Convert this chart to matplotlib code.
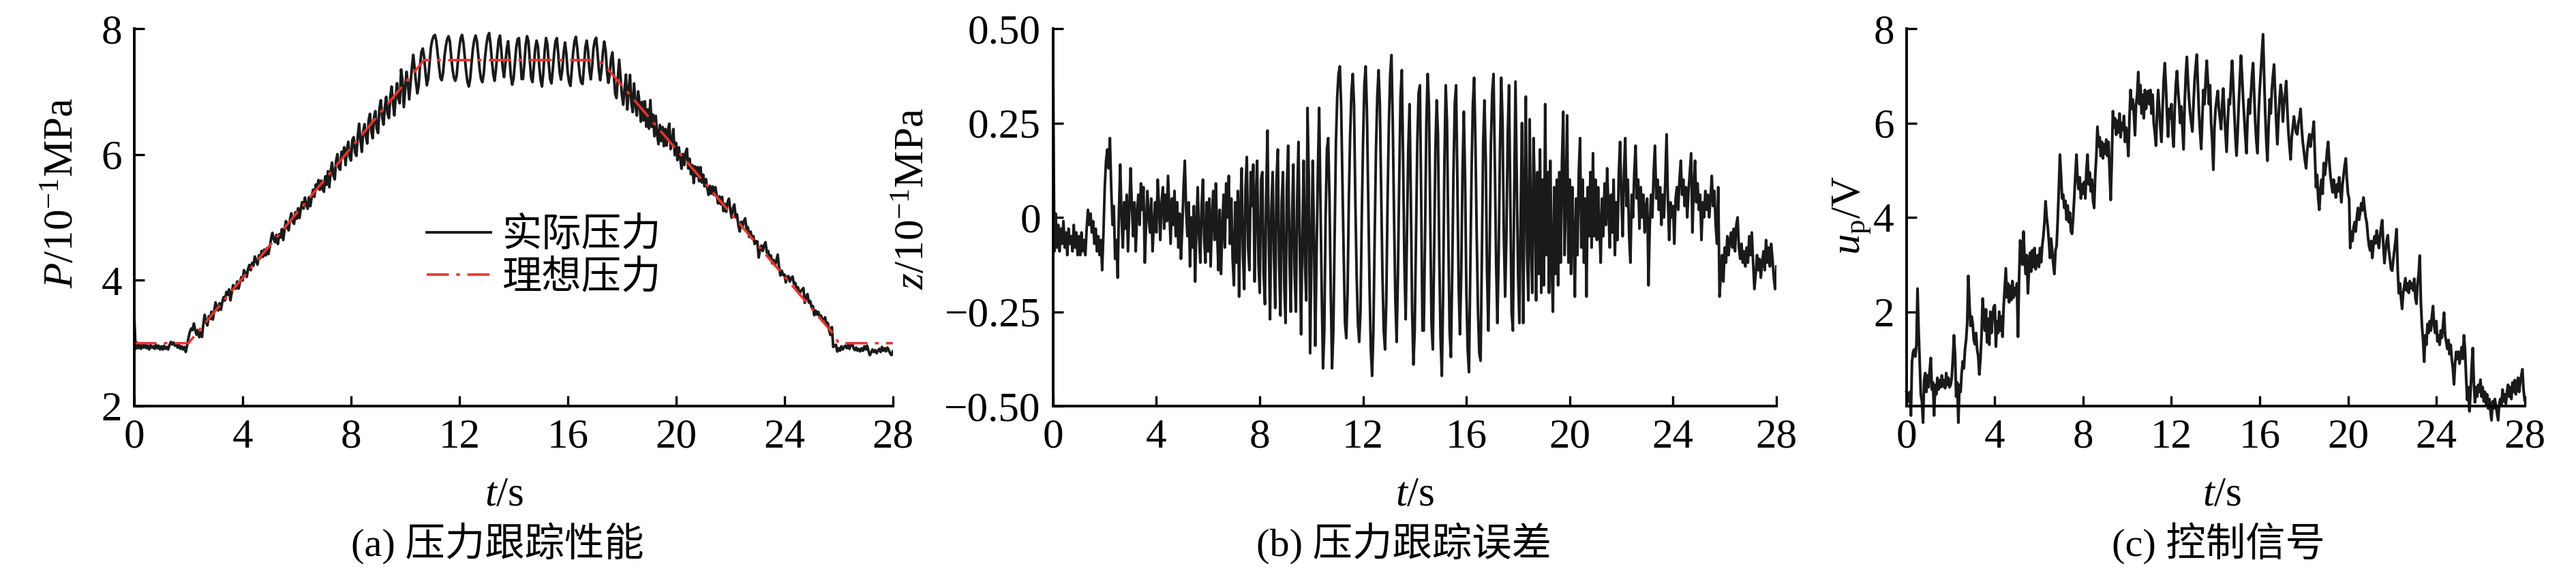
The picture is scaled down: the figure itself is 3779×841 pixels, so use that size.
import numpy as np
import matplotlib
matplotlib.use('Agg')
import matplotlib.pyplot as plt

plt.rcParams['font.family'] = ['Liberation Serif', 'Noto Sans CJK SC']
plt.rcParams['mathtext.fontset'] = 'custom'
plt.rcParams['mathtext.rm'] = 'Liberation Serif'
plt.rcParams['mathtext.it'] = 'Liberation Serif:italic'

# sampling step of the read-off series (s)
dt = 0.05

# ideal pressure profile (breakpoints), 10^-1 MPa
ideal_t = [0.0, 2.0, 10.7, 16.8, 17.3, 25.8, 26.0, 28.0]
ideal_p = [3.0, 3.0, 7.5, 7.5, 7.45, 3.15, 3.0, 3.0]

# tracking error z, one row per second
z_err = [
    0.42, -0.09, 0.01, -0.08, -0.02, -0.09, -0.03, -0.07, -0.01, -0.08, -0.04, -0.10, -0.03, -0.07, -0.05, -0.09, -0.02, -0.08, -0.04, -0.10,
    -0.05, -0.10, -0.04, -0.09, -0.06, -0.10, -0.03, 0.02, -0.02, 0.01, -0.04, -0.01, -0.07, -0.03, -0.09, -0.05, -0.10, -0.06, -0.14, -0.04,
    0.08, 0.15, 0.18, 0.13, 0.21, 0.08, -0.02, 0.03, -0.11, -0.06, -0.16, 0.02, 0.14, 0.00, -0.08, 0.04, -0.03, 0.06, -0.09, 0.02,
    0.13, 0.03, -0.05, 0.04, -0.09, 0.01, 0.06, -0.02, 0.09, 0.02, 0.08, -0.12, -0.02, 0.07, 0.00, -0.04, 0.05, -0.09, -0.02, 0.04,
    -0.04, 0.10, 0.03, -0.06, 0.04, 0.08, -0.03, 0.06, -0.01, 0.11, 0.02, -0.07, 0.05, -0.02, 0.07, -0.05, 0.04, -0.08, 0.01, -0.11,
    -0.03, 0.08, 0.15, 0.02, -0.05, 0.04, -0.13, 0.00, -0.08, 0.03, -0.17, -0.02, 0.08, -0.05, -0.12, 0.03, 0.10, -0.06, -0.12, 0.04,
    -0.09, 0.05, -0.13, 0.00, 0.07, -0.06, 0.09, -0.04, -0.14, 0.02, -0.15, -0.03, 0.06, -0.08, 0.09, 0.00, 0.11, -0.07, 0.05, -0.11,
    -0.18, 0.04, -0.12, 0.07, -0.21, 0.02, 0.13, -0.10, -0.19, 0.08, 0.16, -0.08, -0.14, 0.12, 0.03, 0.14, -0.17, 0.05, 0.15, -0.12,
    -0.20, 0.10, 0.12, -0.15, -0.23, 0.06, 0.23, -0.06, -0.27, 0.02, 0.12, -0.10, -0.24, 0.10, 0.18, -0.12, -0.26, 0.04, 0.12, -0.18,
    -0.28, 0.08, 0.19, -0.10, -0.25, 0.00, 0.14, -0.15, -0.25, 0.05, 0.20, -0.08, -0.31, -0.05, 0.15, -0.12, -0.22, 0.29, 0.10, -0.36,
    -0.10, 0.15, -0.05, -0.34, -0.10, 0.12, 0.29, 0.05, -0.20, -0.40, -0.30, 0.00, 0.18, 0.21, 0.05, -0.20, -0.40, -0.30, -0.05, 0.20,
    0.32, 0.38, 0.40, 0.30, 0.10, -0.10, -0.28, -0.32, -0.20, 0.05, 0.22, 0.33, 0.38, 0.30, 0.05, -0.15, -0.28, -0.33, -0.25, 0.00,
    0.20, 0.35, 0.40, 0.28, 0.05, -0.18, -0.35, -0.42, -0.30, -0.05, 0.18, 0.32, 0.39, 0.30, 0.08, -0.15, -0.30, -0.35, -0.22, 0.05,
    0.25, 0.38, 0.43, 0.25, 0.00, -0.22, -0.33, -0.15, 0.10, 0.32, 0.39, 0.15, -0.12, -0.27, -0.05, 0.18, 0.30, 0.05, -0.25, -0.39,
    -0.30, -0.05, 0.20, 0.33, 0.35, 0.05, -0.30, -0.30, -0.05, 0.25, 0.38, 0.30, 0.00, -0.28, -0.35, -0.10, 0.18, 0.31, 0.22, -0.10,
    -0.32, -0.42, -0.20, 0.15, 0.35, 0.25, -0.05, -0.30, -0.37, -0.15, 0.12, 0.30, 0.35, 0.10, -0.18, -0.31, -0.15, 0.12, 0.28, 0.10,
    -0.20, -0.35, -0.41, -0.15, 0.12, 0.30, 0.37, 0.20, -0.05, -0.25, -0.36, -0.38, -0.10, 0.20, 0.31, 0.15, -0.15, -0.30, -0.10, 0.20,
    0.33, 0.38, 0.15, -0.12, -0.28, -0.10, 0.18, 0.37, 0.25, -0.05, -0.21, -0.05, 0.22, 0.35, 0.05, -0.25, -0.30, 0.05, 0.36, 0.10,
    -0.15, -0.28, 0.00, 0.25, -0.28, 0.05, 0.32, -0.10, -0.22, 0.26, -0.05, -0.20, 0.21, 0.05, -0.22, 0.12, -0.15, 0.18, -0.20, 0.10,
    -0.18, 0.30, -0.10, 0.12, -0.20, 0.15, -0.12, -0.25, 0.08, -0.15, 0.10, -0.18, 0.12, -0.12, 0.15, 0.28, -0.10, 0.05, 0.27, -0.12,
    0.10, -0.15, 0.08, -0.05, -0.21, 0.05, -0.10, 0.12, 0.21, -0.08, 0.10, -0.12, 0.05, -0.21, 0.08, -0.05, 0.12, -0.08, 0.17, -0.05,
    0.10, -0.06, 0.08, -0.03, -0.12, 0.05, -0.05, 0.09, -0.02, 0.13, 0.02, -0.08, 0.06, -0.04, 0.10, -0.10, 0.04, -0.06, 0.12, 0.20,
    0.05, -0.05, 0.12, 0.21, 0.03, 0.10, -0.05, -0.12, 0.06, 0.00, 0.12, 0.19, 0.05, 0.10, -0.03, 0.08, 0.00, 0.06, -0.04, 0.03,
    0.05, -0.18, -0.02, 0.06, 0.00, 0.12, 0.19, 0.05, 0.10, 0.02, 0.08, -0.02, 0.06, 0.00, 0.10, 0.22, 0.05, -0.06, 0.04, 0.00,
    0.03, -0.07, 0.05, 0.08, 0.02, 0.10, 0.15, 0.06, 0.10, 0.03, 0.08, 0.00, 0.07, 0.12, 0.17, -0.04, 0.08, 0.15, 0.04, 0.09,
    0.02, 0.06, -0.06, 0.04, 0.00, 0.07, 0.02, 0.06, 0.00, 0.05, 0.11, 0.03, 0.07, -0.02, -0.07, 0.08, -0.21, -0.15, -0.10, -0.17,
    -0.08, -0.12, -0.05, -0.10, -0.06, -0.04, -0.08, -0.03, -0.09, -0.02, 0.00, -0.08, -0.11, -0.07, -0.12, -0.09, -0.13, -0.08, -0.12, -0.05,
    -0.10, -0.04, -0.12, -0.19, -0.15, -0.10, -0.14, -0.11, -0.16, -0.12, -0.09, -0.14, -0.06, -0.12, -0.08, -0.13, -0.07, -0.11, -0.16, -0.19,
    -0.13,
]

# control signal u_p (V), one row per second
u_ctrl = [
    0.30, 0.25, 0.10, 0.30, -0.20, 0.94, 1.15, 1.20, 1.05, 1.30, 2.49, 1.60, 0.90, 0.24, 0.10, -0.35, 0.55, 0.70, 0.30, 0.65,
    0.40, 0.75, 1.02, 0.35, 0.50, -0.20, 0.45, 0.25, 0.60, 0.35, 0.55, 0.40, 0.65, 0.42, 0.55, 0.38, 0.70, 0.45, 0.60, 0.40,
    0.45, 0.60, 1.00, 1.50, 1.10, 0.20, 0.50, -0.35, 0.45, 0.30, 0.70, 0.95, 0.80, 1.20, 1.40, 1.75, 2.76, 2.20, 1.70, 1.90,
    1.74, 1.40, 1.31, 1.55, 1.20, 1.05, 0.67, 1.00, 1.50, 2.28, 1.90, 1.60, 2.05, 1.35, 1.85, 1.30, 2.00, 1.55, 1.90, 2.10,
    2.14, 1.26, 1.80, 1.55, 2.00, 1.60, 1.90, 1.47, 2.10, 2.50, 2.92, 2.30, 2.60, 2.20, 2.55, 2.25, 2.65, 2.30, 2.50, 2.35,
    2.60, 1.47, 2.70, 3.51, 3.20, 3.00, 3.70, 3.10, 2.80, 3.20, 2.39, 2.90, 3.25, 2.85, 3.30, 2.95, 3.35, 2.90, 3.10, 3.20,
    2.95, 3.35, 3.05, 3.40, 3.60, 3.90, 4.34, 4.00, 3.80, 3.50, 3.14, 3.55, 3.30, 3.00, 2.80, 3.30, 3.40, 3.94, 4.60, 5.33,
    4.90, 4.40, 4.48, 4.20, 4.35, 3.95, 4.25, 3.90, 4.10, 3.70, 3.65, 4.00, 4.42, 4.90, 5.33, 4.80, 4.60, 4.85, 4.40, 4.70,
    4.50, 4.75, 4.40, 5.00, 5.33, 4.70, 4.95, 4.55, 4.80, 4.35, 4.20, 4.90, 5.30, 5.92, 5.50, 5.70, 5.30, 5.60, 5.25, 5.55,
    5.35, 5.65, 5.30, 5.60, 5.00, 4.37, 5.20, 6.25, 5.90, 6.10, 5.75, 6.05, 5.80, 6.20, 5.70, 6.00, 5.85, 6.15, 5.60, 5.90,
    5.70, 5.30, 6.10, 6.70, 6.30, 6.50, 6.20, 5.74, 6.40, 6.60, 7.08, 6.40, 6.80, 6.20, 6.60, 6.10, 6.70, 6.30, 6.50, 6.68,
    6.40, 6.70, 6.20, 6.60, 6.00, 5.80, 5.52, 6.20, 6.70, 6.30, 5.90, 5.60, 6.30, 6.90, 7.27, 6.80, 6.20, 5.71, 6.30, 6.10,
    6.40, 5.80, 5.50, 6.30, 6.80, 7.10, 6.70, 6.40, 6.00, 6.35, 5.90, 5.44, 6.40, 7.00, 7.40, 6.90, 6.50, 6.20, 6.00, 5.82,
    6.40, 6.90, 7.20, 7.45, 6.80, 6.20, 5.80, 5.45, 6.10, 6.70, 6.40, 6.90, 7.32, 6.90, 6.40, 6.80, 6.00, 5.60, 5.01, 5.90,
    6.30, 6.50, 6.68, 6.30, 6.10, 5.87, 6.40, 6.73, 6.20, 5.80, 5.39, 6.00, 6.50, 6.40, 6.90, 7.32, 6.80, 6.20, 5.70, 5.31,
    5.80, 6.40, 6.90, 7.43, 7.00, 6.50, 6.10, 5.70, 5.36, 6.10, 6.50, 6.20, 6.60, 7.00, 7.27, 6.60, 6.00, 5.60, 5.36, 6.20,
    6.70, 7.10, 7.50, 7.88, 7.00, 6.20, 5.60, 5.20, 5.90, 6.50, 6.20, 6.70, 7.00, 7.24, 6.60, 6.00, 5.55, 6.10, 6.50, 6.81,
    6.60, 6.03, 6.40, 6.60, 6.89, 6.30, 5.80, 5.50, 5.23, 5.70, 5.90, 6.14, 5.95, 5.80, 5.76, 6.00, 6.10, 6.30, 5.90, 5.60,
    5.40, 5.20, 5.04, 5.40, 5.60, 5.76, 5.50, 5.70, 5.80, 6.03, 5.30, 4.64, 4.90, 4.40, 4.16, 4.60, 4.80, 4.50, 5.15, 4.90,
    5.10, 5.40, 5.60, 5.20, 4.90, 4.70, 4.53, 4.80, 4.60, 4.42, 4.70, 4.55, 4.85, 4.60, 4.32, 4.70, 4.90, 5.10, 5.25, 4.80,
    4.50, 4.40, 3.35, 3.70, 3.50, 3.78, 3.90, 3.70, 4.00, 4.20, 3.95, 4.10, 4.30, 4.15, 4.42, 4.20, 4.00, 3.89, 3.60, 3.40,
    3.30, 3.50, 3.14, 3.40, 3.60, 3.45, 3.72, 3.50, 3.35, 3.60, 3.80, 3.94, 3.40, 3.03, 3.30, 3.50, 3.62, 3.30, 3.10, 2.90,
    2.87, 3.10, 3.30, 3.50, 3.75, 2.90, 2.39, 2.60, 2.30, 2.06, 2.40, 2.55, 2.71, 2.45, 2.60, 2.40, 2.65, 2.50, 2.60, 2.45,
    2.70, 2.30, 2.17, 2.60, 2.80, 3.19, 2.20, 1.70, 1.40, 0.94, 1.50, 1.30, 1.74, 1.55, 1.80, 1.60, 1.90, 2.12, 1.70, 1.55,
    1.80, 1.37, 1.50, 1.30, 1.60, 1.45, 1.70, 1.98, 1.50, 1.35, 1.21, 1.40, 1.10, 1.30, 1.00, 0.80, 0.46, 0.90, 1.15, 1.00,
    1.15, 0.90, 1.10, 1.25, 1.00, 1.50, 1.20, 0.60, 0.13, 0.40, -0.11, 0.30, 0.80, 1.23, 0.50, 0.08, 0.40, 0.20, 0.45, 0.30,
    0.56, 0.20, 0.40, 0.10, 0.30, 0.05, 0.25, -0.05, 0.15, -0.10, -0.30, 0.10, -0.05, 0.15, 0.00, -0.15, -0.30, 0.05, 0.15, 0.00,
    0.35, 0.10, 0.25, 0.05, 0.30, 0.45, 0.20, 0.40, 0.15, 0.50, 0.30, 0.55, 0.25, 0.45, 0.60, 0.30, 0.50, 0.65, 0.78, 0.35,
    0.13,
]

x_ticks = [0, 4, 8, 12, 16, 20, 24, 28]
a_yticks = [2, 4, 6, 8]
b_yticks = [-0.5, -0.25, 0, 0.25, 0.5]
b_yticklabels = ['\u22120.50', '\u22120.25', '0', '0.25', '0.50']
c_yticks = [2, 4, 6, 8]

legend_labels = ['实际压力', '理想压力']
captions = ['(a) 压力跟踪性能', '(b) 压力跟踪误差', '(c) 控制信号']

assert len(z_err) == len(u_ctrl) == 561, (len(z_err), len(u_ctrl))

t = np.arange(len(z_err)) * dt
z = np.array(z_err)
u = np.array(u_ctrl)
# actual pressure = ideal profile + tracking error
p_actual = np.interp(t, ideal_t, ideal_p) + z

LINE = '#1a1a1a'
RED = '#e8352c'
FS = 44


def style_axis(ax):
    ax.spines['top'].set_visible(False)
    ax.spines['right'].set_visible(False)
    ax.spines['left'].set_linewidth(2.8)
    ax.spines['bottom'].set_linewidth(2.8)
    ax.tick_params(direction='in', length=11, width=2.4, labelsize=FS, pad=13)
    ax.set_xlim(0, 28)
    ax.set_xticks(x_ticks)


fig = plt.figure(figsize=(37.8, 8.41), dpi=100)
bottom, height = 0.2913, 0.6587
ax_a = fig.add_axes([0.0521, bottom, 0.2944, height])
ax_b = fig.add_axes([0.4087, bottom, 0.2807, height])
ax_c = fig.add_axes([0.7399, bottom, 0.2399, height])

# (a) pressure tracking
ax_a.plot(t, p_actual, color=LINE, lw=2.8, label=legend_labels[0])
ax_a.plot(ideal_t, ideal_p, color=RED, lw=2.6, linestyle=(0, (9, 3, 1.5, 3)),
          label=legend_labels[1])
style_axis(ax_a)
ax_a.set_ylim(2, 8)
ax_a.set_yticks(a_yticks)
ax_a.legend(loc='upper left', bbox_to_anchor=(0.386, 0.50), frameon=False,
            fontsize=42, handlelength=1.6, handletextpad=0.3, labelspacing=0.15,
            borderpad=0, borderaxespad=0)

# (b) tracking error
ax_b.plot(t, z, color=LINE, lw=2.8)
style_axis(ax_b)
ax_b.set_ylim(-0.5, 0.5)
ax_b.set_yticks(b_yticks)
ax_b.set_yticklabels(b_yticklabels)

# (c) control signal
ax_c.plot(t, u, color=LINE, lw=2.9, clip_on=False)
style_axis(ax_c)
ax_c.set_ylim(0, 8)
ax_c.set_yticks(c_yticks)

ylabels = ['$P$/10$^{-1}$MPa', '$z$/10$^{-1}$MPa', '$u_\\mathrm{p}$/V']
ylabel_pos = [(-0.094, 0.565), (-0.193, 0.549), (-0.088, 0.505)]
xlabel_x = [0.488, 0.50, 0.51]
caption_x = [0.479, 0.485, 0.505]

for ax, yl, yp, xx, cx, cap in zip([ax_a, ax_b, ax_c], ylabels, ylabel_pos,
                                   xlabel_x, caption_x, captions):
    ax.text(yp[0], yp[1], yl, transform=ax.transAxes, rotation=90,
            ha='center', va='center', fontsize=FS)
    ax.text(xx, -0.236, '$t$/s', transform=ax.transAxes,
            ha='center', va='center', fontsize=FS)
    ax.text(cx, -0.363, cap, transform=ax.transAxes,
            ha='center', va='center', fontsize=42)

fig.savefig('out.png', dpi=100)
